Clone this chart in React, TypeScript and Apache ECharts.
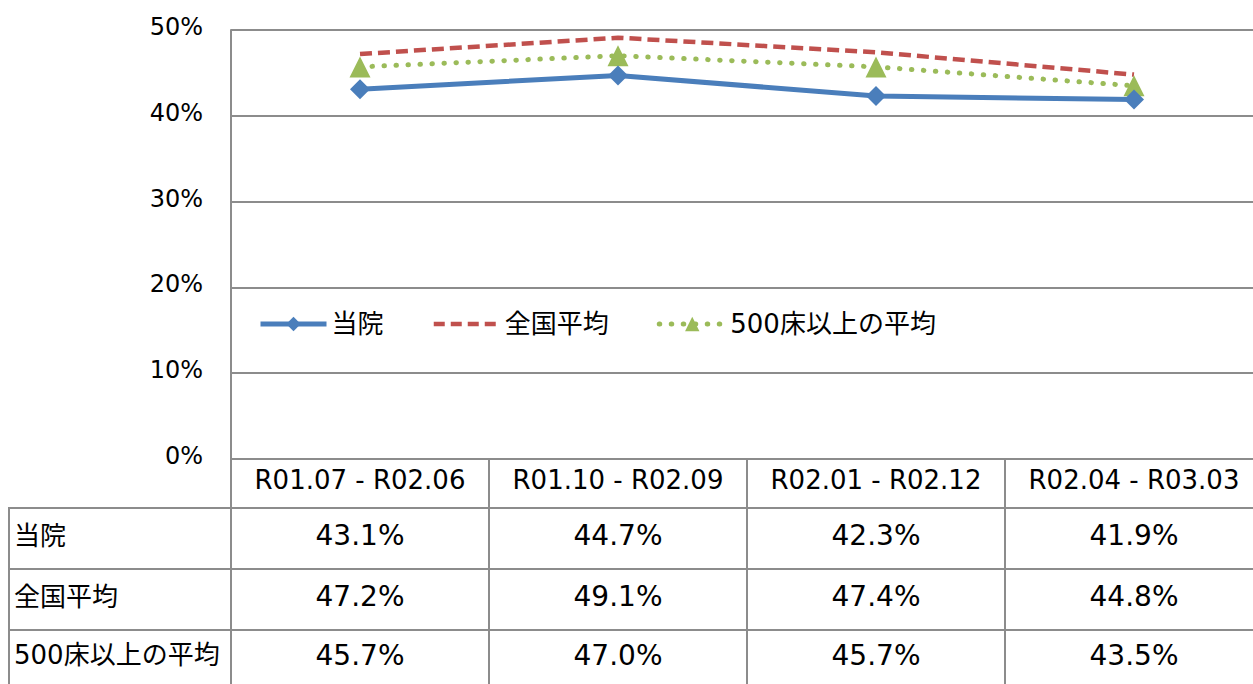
import React, { useEffect, useRef } from "react";
import * as echarts from "echarts";

const categories = ["R01.07 - R02.06", "R01.10 - R02.09", "R02.01 - R02.12", "R02.04 - R03.03"];
const seriesNames = ["当院", "全国平均", "500床以上の平均"];
const hospital = [43.1, 44.7, 42.3, 41.9];
const national = [47.2, 49.1, 47.4, 44.8];
const over500 = [45.7, 47.0, 45.7, 43.5];
const yTicks = [0, 10, 20, 30, 40, 50];

const FONT = "'DejaVu Sans', 'Noto Sans CJK JP', sans-serif";
const GRID_LEFT = 231;
const GRID_TOP = 30;
const GRID_BOTTOM_Y = 459;
const COL_W = 258;
const W = 1253;
const H = 684;
const ROW_Y = [459, 508, 569, 630, 700];
const LABEL_LEFT = 8;
const BORDER = "#8c8c8c";
const BLUE = "#4A7EBB";
const RED = "#C0504D";
const GREEN = "#9BBB59";

export default function App() {
  const ref = useRef<HTMLDivElement>(null);
  const CW = GRID_LEFT + COL_W * categories.length;
  useEffect(() => {
    const chart = echarts.init(ref.current!, null, { renderer: "svg" });
    const rightEdge = CW;
    const rows = [hospital, national, over500];
    const graphics: any[] = [];
    for (let r = 1; r < ROW_Y.length - 1; r++) {
      graphics.push({
        type: "line",
        shape: { x1: LABEL_LEFT, y1: ROW_Y[r], x2: rightEdge, y2: ROW_Y[r] },
        style: { stroke: BORDER, lineWidth: 2 },
      });
    }
    graphics.push({
      type: "line",
      shape: { x1: LABEL_LEFT + 1, y1: ROW_Y[1], x2: LABEL_LEFT + 1, y2: H },
      style: { stroke: BORDER, lineWidth: 2 },
    });
    for (let c = 0; c <= categories.length; c++) {
      const x = GRID_LEFT + c * COL_W;
      graphics.push({
        type: "line",
        shape: { x1: x, y1: ROW_Y[0], x2: x, y2: H },
        style: { stroke: BORDER, lineWidth: 2 },
      });
    }
    rows.forEach((vals, r) => {
      const cy = (ROW_Y[r + 1] + Math.min(ROW_Y[r + 2], H + 2)) / 2 - 3;
      graphics.push({
        type: "text",
        x: 14,
        y: cy,
        style: { text: seriesNames[r], font: `26px ${FONT}`, fill: "#000", textVerticalAlign: "middle", textAlign: "left" },
      });
      vals.forEach((v, c) => {
        graphics.push({
          type: "text",
          x: GRID_LEFT + (c + 0.5) * COL_W,
          y: cy,
          style: { text: v.toFixed(1) + "%", font: `28px ${FONT}`, fill: "#000", textVerticalAlign: "middle", textAlign: "center" },
        });
      });
    });

    chart.setOption({
      animation: false,
      textStyle: { fontFamily: FONT },
      grid: {
        left: GRID_LEFT,
        top: GRID_TOP,
        right: 0,
        bottom: H - GRID_BOTTOM_Y,
        containLabel: false,
      },
      legend: {
        left: 253,
        top: 306,
        itemWidth: 66,
        itemHeight: 18,
        itemGap: 48,
        textStyle: { fontSize: 26, color: "#000", fontFamily: FONT },
        data: [
          { name: seriesNames[0], lineStyle: { width: 5, color: BLUE } },
          { name: seriesNames[1], itemStyle: { opacity: 0 }, lineStyle: { width: 4.5, color: RED, type: [11, 6] } },
          { name: seriesNames[2], lineStyle: { width: 5, color: GREEN, type: [0.5, 11.5], cap: "round" } },
        ],
      },
      xAxis: {
        type: "category",
        data: categories,
        boundaryGap: true,
        axisLine: { show: true, lineStyle: { color: BORDER, width: 2 } },
        axisTick: { show: false },
        axisLabel: { fontSize: 26, color: "#000", margin: 8, fontFamily: FONT, interval: 0 },
      },
      yAxis: {
        type: "value",
        min: yTicks[0],
        max: yTicks[yTicks.length - 1],
        interval: 10,
        axisLine: { show: true, lineStyle: { color: BORDER, width: 2 } },
        axisTick: { show: false },
        splitLine: { show: true, lineStyle: { color: BORDER, width: 2 } },
        axisLabel: { fontSize: 24, color: "#000", margin: 28, formatter: "{value}%", fontFamily: FONT, verticalAlign: "bottom", lineHeight: 6 },
      },
      series: [
        {
          name: seriesNames[0],
          type: "line",
          data: hospital,
          symbol: "diamond",
          symbolSize: 20,
          itemStyle: { color: BLUE },
          lineStyle: { color: BLUE, width: 5 },
          z: 4,
        },
        {
          name: seriesNames[1],
          type: "line",
          data: national,
          symbol: "none",
          itemStyle: { color: RED },
          lineStyle: { color: RED, width: 4.5, type: [12, 6] },
          z: 3,
        },
        {
          name: seriesNames[2],
          type: "line",
          data: over500,
          symbol: "triangle",
          symbolSize: 21,
          itemStyle: { color: GREEN },
          lineStyle: { color: GREEN, width: 5, type: [0.5, 11.5], cap: "round" },
          z: 3,
        },
      ],
      graphic: graphics,
    });
    return () => chart.dispose();
  }, []);
  return (
    <div style={{ position: "absolute", left: 0, top: 0, width: W, height: H, overflow: "hidden", background: "#fff" }}>
      <div ref={ref} style={{ width: CW, height: H }} />
    </div>
  );
}
